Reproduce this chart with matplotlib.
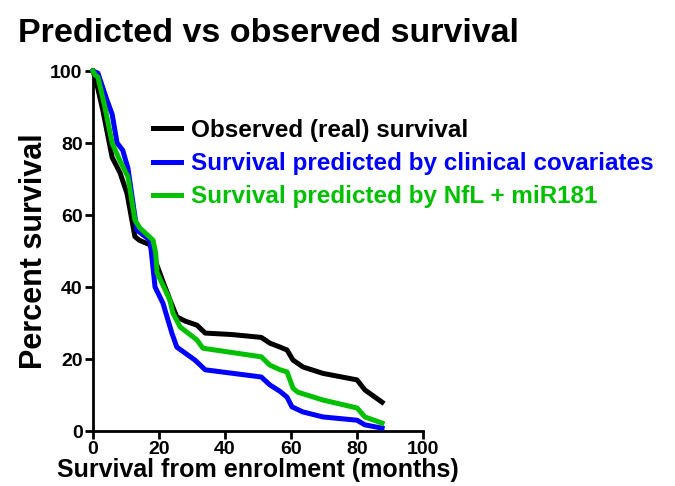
import matplotlib
matplotlib.use("Agg")
import matplotlib.pyplot as plt

plt.rcParams['font.family'] = ['Liberation Sans', 'DejaVu Sans']

obs_x = [0, 1, 3, 5.8, 8.2, 10.3, 12.7, 14, 17.3, 18.8, 21, 23.5, 25.4, 28, 31.5, 34, 42, 51, 53.6, 56.7, 58.8, 60.6, 63.6, 69.7, 80, 82.4, 87.6]
obs_y = [100, 97, 89, 76, 71.7, 66, 54, 53, 51.7, 47.5, 42, 36, 31.7, 30.5, 29.4, 27.2, 26.8, 26, 24.4, 23.3, 22.5, 19.7, 17.8, 16, 14.2, 11.4, 8]

clin_x = [0, 1.5, 4.2, 5.8, 7.3, 9, 10.6, 13.3, 17.3, 18.8, 21.2, 23.9, 25.4, 30.9, 34, 51, 53.6, 56.7, 58.8, 60.3, 63.6, 69.7, 80, 82.4, 87.6]
clin_y = [100, 99.4, 92, 88, 80, 78, 73, 55.8, 53, 40, 35.5, 27.2, 23.3, 19.7, 17, 15, 12.8, 11, 9.4, 6.7, 5.3, 3.9, 3, 1.7, 0.8]

nfl_x = [0, 0.6, 1.5, 3.6, 5.8, 8.2, 10.6, 12.7, 14.2, 18.2, 19, 19.4, 23.3, 24.2, 26.4, 31.5, 33.3, 51, 53.6, 56.7, 58.8, 60.6, 62, 69.7, 80, 82.4, 87.6]
nfl_y = [100, 98.9, 98.3, 90, 80, 75, 70.6, 58.6, 56.4, 53, 49.4, 44, 36.4, 32.8, 28.9, 25.3, 23, 20.6, 18.3, 17, 16.4, 11.9, 10.8, 8.6, 6.4, 3.9, 2.2]

labels = ["Observed (real) survival",
          "Survival predicted by clinical covariates",
          "Survival predicted by NfL + miR181"]
colors = ["#000000", "#0000FF", "#00C000"]
ticks = [0, 20, 40, 60, 80, 100]

fig = plt.figure(figsize=(6.75, 4.86), dpi=100)
ax = fig.add_axes([93/675, 55/486, 330/675, 360/486])

lw = 3.6
h1, = ax.plot(obs_x, obs_y, color=colors[0], lw=lw, clip_on=False, solid_joinstyle='round', zorder=3)
h2, = ax.plot(clin_x, clin_y, color=colors[1], lw=lw, clip_on=False, solid_joinstyle='round', zorder=3)
h3, = ax.plot(nfl_x, nfl_y, color=colors[2], lw=lw, clip_on=False, solid_joinstyle='round', zorder=4)

ax.set_xlim(0, 100)
ax.set_ylim(0, 100)
ax.set_xticks(ticks)
ax.set_yticks(ticks)
for s in ['top', 'right']:
    ax.spines[s].set_visible(False)
for s in ['left', 'bottom']:
    ax.spines[s].set_linewidth(2)
ax.tick_params(width=2, length=6, labelsize=14, pad=1.5)
for lab in ax.get_xticklabels() + ax.get_yticklabels():
    lab.set_fontweight('bold')

ax.set_xlabel("Survival from enrolment (months)", fontsize=18, fontweight='bold', labelpad=0)
ax.set_ylabel("Percent survival", fontsize=22, fontweight='bold', labelpad=1)

leg = ax.legend([h1, h2, h3], labels, loc='upper left', bbox_to_anchor=(0.183, 0.867),
                frameon=False, fontsize=17.5, handlelength=1.15, handletextpad=0.4,
                labelspacing=0.42, borderaxespad=0, borderpad=0)
for t, c in zip(leg.get_texts(), colors):
    t.set_color(c)
    t.set_fontweight('bold')

fig.text(18/675, 1 - 33/486, "Predicted vs observed survival", fontsize=24.5, fontweight='bold',
         va='center', ha='left')

fig.savefig("out.png", dpi=100)
